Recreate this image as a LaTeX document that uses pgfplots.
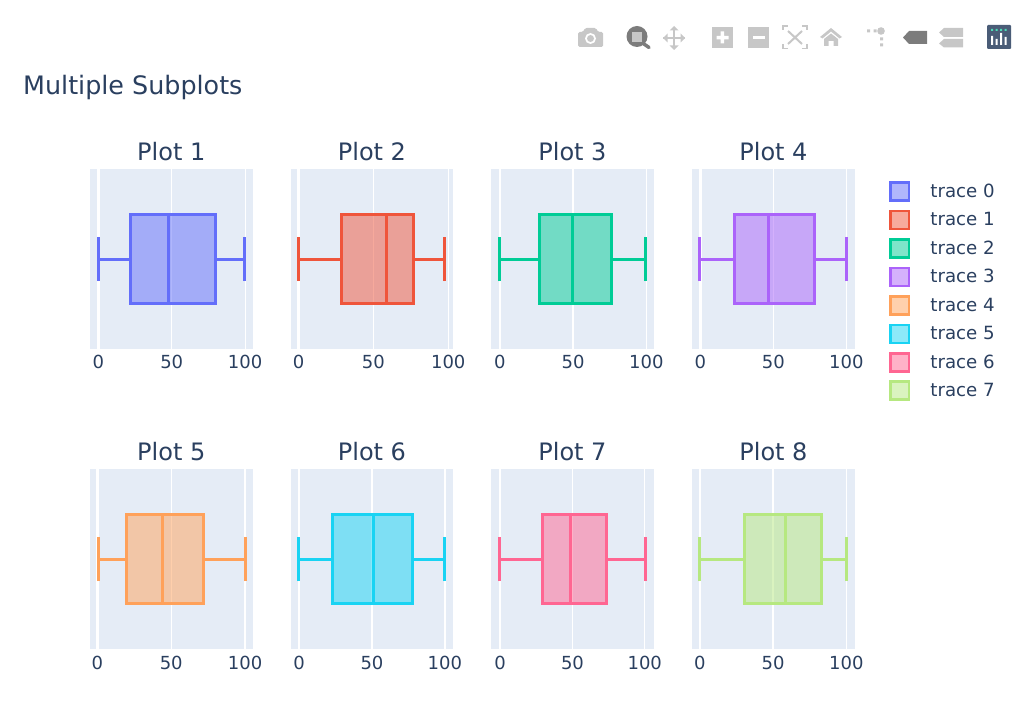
\documentclass[border=0pt]{standalone}
\usepackage{pgfplots}
\pgfplotsset{compat=1.18}
\usepgfplotslibrary{statistics}
\usepackage{fontspec}
\setmainfont{DejaVu Sans}
\definecolor{ink}{HTML}{2A3F5F}
\definecolor{plotbg}{HTML}{E5ECF6}
\definecolor{cA}{HTML}{636EFA}
\definecolor{cB}{HTML}{EF553B}
\definecolor{cC}{HTML}{00CC96}
\definecolor{cD}{HTML}{AB63FA}
\definecolor{cE}{HTML}{FFA15A}
\definecolor{cF}{HTML}{19D3F3}
\definecolor{cG}{HTML}{FF6692}
\definecolor{cH}{HTML}{B6E880}
\definecolor{tbl}{HTML}{C7C7C7}
\definecolor{tbd}{HTML}{7C7C7C}
\pgfplotsset{
  panel/.style={
    scale only axis, width=162.5pt, height=180pt, anchor=south west,
    ymin=-0.5, ymax=0.5, ytick=\empty,
    xtick={50,100}, extra x ticks={0},
    extra tick style={grid style={white,line width=2.6pt}},
    xmajorgrids, grid style={white,line width=1.3pt},
    major tick length=0pt, axis line style={draw=none},
    axis background/.style={fill=plotbg},
    /pgf/number format/assume math mode=true,
    tick label style={font=\fontsize{18}{20}\selectfont,text=ink},
    xticklabel style={yshift=-3pt},
    title style={font=\fontsize{24}{28}\selectfont,text=ink,at={(0.5,1)},anchor=south,yshift=1.5pt,inner sep=0pt},
  },
  swatch/.style={legend image code/.code={\draw[draw=#1,fill=#1,fill opacity=.5,line width=2.6pt] (0pt,-9pt) rectangle (18.3pt,9pt);\path (39.5pt,0pt);}},
}
\newcommand{\boxp}[6]{\addplot[forget plot,draw=#1,fill=#1,fill opacity=.5,
  boxplot/draw direction=x,
  boxplot/every box/.append style={line width=3pt},
  boxplot/every whisker/.append style={line width=3pt},
  boxplot/every median/.append style={line width=3pt},
  boxplot prepared={draw position=0,lower whisker=#2,lower quartile=#3,median=#4,upper quartile=#5,upper whisker=#6,box extend=0.49,whisker extend=0.245}] coordinates {};}
\begin{document}
\begin{tikzpicture}[x=1pt,y=1pt]
\path[use as bounding box] (0,0) rectangle (1024,705);
% row 1
\begin{axis}[panel,at={(90pt,356pt)},xmin=-5.66,xmax=105,title={Plot 1},
  legend style={at={(4.918,0.933)},anchor=north west,draw=none,fill=none,inner sep=0pt,
    row sep=7.85pt,font=\fontsize{18.2}{20}\selectfont,text=ink,
    nodes={inner sep=0pt}},
  legend cell align=left]
\boxp{cA}{0}{22.1}{48.1}{79.6}{99.5}
\addlegendimage{swatch=cA}\addlegendentry{trace 0}
\addlegendimage{swatch=cB}\addlegendentry{trace 1}
\addlegendimage{swatch=cC}\addlegendentry{trace 2}
\addlegendimage{swatch=cD}\addlegendentry{trace 3}
\addlegendimage{swatch=cE}\addlegendentry{trace 4}
\addlegendimage{swatch=cF}\addlegendentry{trace 5}
\addlegendimage{swatch=cG}\addlegendentry{trace 6}
\addlegendimage{swatch=cH}\addlegendentry{trace 7}
\end{axis}
\begin{axis}[panel,at={(290.7pt,356pt)},xmin=-5.3,xmax=103.3,title={Plot 2}]
\boxp{cB}{0}{28.7}{58.8}{76.6}{97.8}
\end{axis}
\begin{axis}[panel,at={(491.2pt,356pt)},xmin=-5.9,xmax=105,title={Plot 3}]
\boxp{cC}{-0.5}{26.8}{49.3}{76.4}{99.3}
\end{axis}
\begin{axis}[panel,at={(692.2pt,356pt)},xmin=-5.5,xmax=105.7,title={Plot 4}]
\boxp{cD}{-0.2}{23.7}{46.6}{78}{100}
\end{axis}
% row 2
\begin{axis}[panel,at={(90pt,56pt)},xmin=-5,xmax=105,title={Plot 5},xticklabel style={yshift=-0.5pt}]
\boxp{cE}{0.5}{19.5}{44}{72}{100}
\end{axis}
\begin{axis}[panel,at={(290.7pt,56pt)},xmin=-5.7,xmax=105.7,title={Plot 6},xticklabel style={yshift=-0.5pt}]
\boxp{cF}{-0.2}{22.8}{50.9}{78.1}{100}
\end{axis}
\begin{axis}[panel,at={(491.2pt,56pt)},xmin=-6.2,xmax=106.2,title={Plot 7},xticklabel style={yshift=-0.5pt}]
\boxp{cG}{-0.5}{29.2}{48.7}{73.6}{100.5}
\end{axis}
\begin{axis}[panel,at={(692.2pt,56pt)},xmin=-5.2,xmax=105.7,title={Plot 8},xticklabel style={yshift=-0.5pt}]
\boxp{cH}{0}{30.8}{58.3}{82.7}{100}
\end{axis}
% title
\node[anchor=west,inner sep=0pt,text=ink,font=\fontsize{25.4}{30}\selectfont] at (23,617.5) {Multiple Subplots};
% toolbar
\begin{scope}[shift={(0,705)},y=-1pt]
 % camera
 \fill[tbl,rounded corners=1.5pt] (578,32) -- (583,32) -- (585,28) -- (596,28) -- (598,32) -- (603,32) -- (603,47) -- (578,47) -- cycle;
 \fill[white] (590.5,38.5) circle (5.5);
 \fill[tbl] (590.5,38.5) circle (3.5);
 % zoom
 \draw[tbd,line width=3.5pt,line cap=round] (644,44) -- (649,47.5);
 \fill[tbd] (637,36.5) circle (10.5);
 \fill[tbl] (632,32) rectangle (642,42);
 % pan
 \draw[tbl,line width=2pt] (663,38) -- (685,38) (674,27) -- (674,49);
 \fill[tbl] (663,38) -- (667.5,33.5) -- (667.5,42.5) -- cycle
   (685,38) -- (680.5,33.5) -- (680.5,42.5) -- cycle
   (674,26) -- (669.5,30.5) -- (678.5,30.5) -- cycle
   (674,50) -- (669.5,45.5) -- (678.5,45.5) -- cycle;
 % plus
 \fill[tbl] (712,27) rectangle (733,48);
 \fill[white] (716.5,36) rectangle (728.5,39.5) (720.7,31.5) rectangle (724.2,43.5);
 % minus
 \fill[tbl] (748,27) rectangle (769,48);
 \fill[white] (752.5,36) rectangle (764.5,39.5);
 % autoscale
 \draw[tbl,line width=1.3pt] (783,30) -- (783,26) -- (788,26) (802,26) -- (807,26) -- (807,30) (807,44) -- (807,48.5) -- (802,48.5) (788,48.5) -- (783,48.5) -- (783,44);
 \draw[tbl,line width=2pt] (788,31) -- (802,44) (802,31) -- (788,44);
 % home
 \fill[tbl] (820,37) -- (831,28) -- (842,37) -- (839.5,38.5) -- (831,31.5) -- (822.5,38.5) -- cycle
   (824,39) -- (831,33.5) -- (838,39) -- (838,46) -- (833.5,46) -- (833.5,41) -- (828.5,41) -- (828.5,46) -- (824,46) -- cycle;
 % spikes
 \fill[tbl] (881,31) circle (3.8);
 \fill[tbl] (867,29.5) rectangle (870,32.5) (873.5,29.5) rectangle (876.5,32.5) (880,37.5) rectangle (883,40.5) (880,43.5) rectangle (883,46.5);
 % closest
 \fill[tbd] (903,37.5) -- (909,31) -- (927,31) -- (927,44) -- (909,44) -- cycle;
 % compare
 \fill[tbl] (939,32.5) -- (944,28) -- (963,28) -- (963,37) -- (944,37) -- cycle
  (939,43.5) -- (944,39) -- (963,39) -- (963,47.5) -- (944,47.5) -- cycle;
 % logo
 \fill[ink!85!white,rounded corners=1pt] (987,25) rectangle (1011,49);
 \fill[white] (991,36) rectangle (993,45) (995.5,39) rectangle (997.5,45) (1000,33) rectangle (1002,45) (1004.5,37) rectangle (1006.5,45);
 \fill[cC!70!white] (991,29) rectangle (993,31) (995.5,29) rectangle (997.5,31) (1000,29) rectangle (1002,31) (1004.5,29) rectangle (1006.5,31);
\end{scope}
\end{tikzpicture}
\end{document}
